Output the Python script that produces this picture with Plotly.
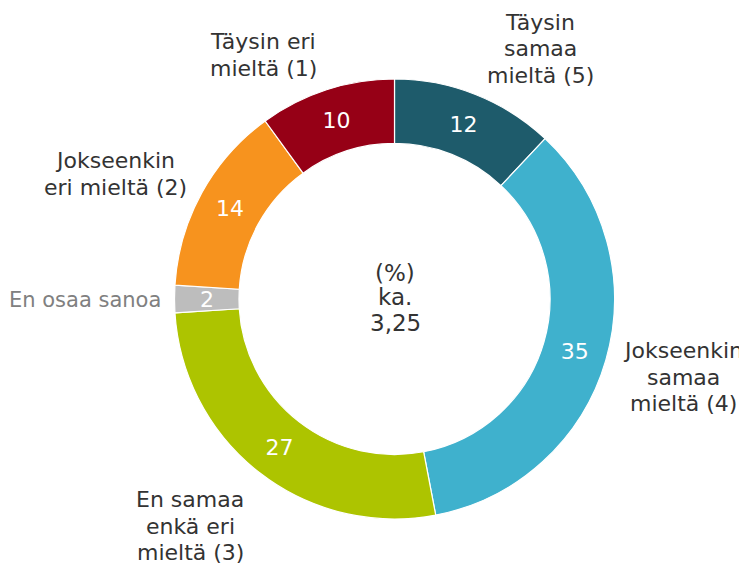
import math
import plotly.graph_objects as go

categories = ["Täysin samaa mieltä (5)", "Jokseenkin samaa mieltä (4)",
              "En samaa enkä eri mieltä (3)", "En osaa sanoa",
              "Jokseenkin eri mieltä (2)", "Täysin eri mieltä (1)"]
values = [12, 35, 27, 2, 14, 10]
colors = ["#1e5b6b", "#3fb1cd", "#adc400", "#bdbdbd", "#f7931e", "#960016"]
label_texts = ["Täysin<br>samaa<br>mieltä (5)", "Jokseenkin<br>samaa<br>mieltä (4)",
               "En samaa<br>enkä eri<br>mieltä (3)", "En osaa sanoa",
               "Jokseenkin<br>eri mieltä (2)", "Täysin eri<br>mieltä (1)"]
label_colors = ["#333333", "#333333", "#333333", "#808080", "#333333", "#333333"]
label_sizes = [22, 22, 22, 21, 22, 22]
label_pos = [(540, 49), (683, 377), (190, 526), (85, 300), (115, 174), (263, 55)]
center_lines = ["(%)", "ka.", "3,25"]
center_ys = [273, 297, 323]

W, H = 747, 567
OFF = 8                         # page offset of the plot in the screenshot
vcx, vcy, r = 394.5, 299, 220   # visual center / outer radius (screen px)
cx, cy = vcx - OFF, vcy - OFF
hole = 0.707
LINE = 26.3


def px(sx, sy):
    return (sx - OFF) / W, 1 - (sy - OFF) / H


thin = [v < 5 for v in values]
texts = ["" if t else str(v) for v, t in zip(values, thin)]

fig = go.Figure(go.Pie(
    labels=categories, values=values, sort=False, direction="clockwise",
    rotation=0, hole=hole, text=texts,
    marker=dict(colors=colors, line=dict(color="white", width=1.2)),
    textinfo="text", textposition="inside", insidetextorientation="horizontal",
    textfont=dict(family="DejaVu Sans", size=22, color="white"),
    domain=dict(x=[(cx - r) / W, (cx + r) / W], y=[(H - cy - r) / H, (H - cy + r) / H]),
    showlegend=False, hoverinfo="label+value",
))

total = sum(values)
cum = 0
for v, t in zip(values, thin):
    if t:
        ang = 2 * math.pi * (cum + v / 2) / total
        rm = r * (1 + hole) / 2
        x, y = px(vcx + rm * math.sin(ang), vcy - rm * math.cos(ang))
        fig.add_annotation(x=x, y=y, xref="paper", yref="paper",
                           text=str(v), showarrow=False, xanchor="center", yanchor="middle",
                           font=dict(family="DejaVu Sans", size=22, color="white"))
    cum += v

for t, c, s, (sx, sy) in zip(label_texts, label_colors, label_sizes, label_pos):
    lines = t.split("<br>")
    n = len(lines)
    for i, ln in enumerate(lines):
        x, y = px(sx, sy + (i - (n - 1) / 2) * LINE)
        fig.add_annotation(x=x, y=y, xref="paper", yref="paper", text=ln,
                           showarrow=False, xanchor="center", yanchor="middle",
                           font=dict(family="DejaVu Sans", size=s, color=c))

for t, sy in zip(center_lines, center_ys):
    x, y = px(395, sy)
    fig.add_annotation(x=x, y=y, xref="paper", yref="paper", text=t,
                       showarrow=False, xanchor="center", yanchor="middle",
                       font=dict(family="DejaVu Sans", size=23, color="#333333"))

fig.update_layout(width=W, height=H, margin=dict(l=0, r=0, t=0, b=0),
                  paper_bgcolor="white", plot_bgcolor="white",
                  uniformtext=dict(minsize=22, mode="show"))
fig.write_html("out.html")
